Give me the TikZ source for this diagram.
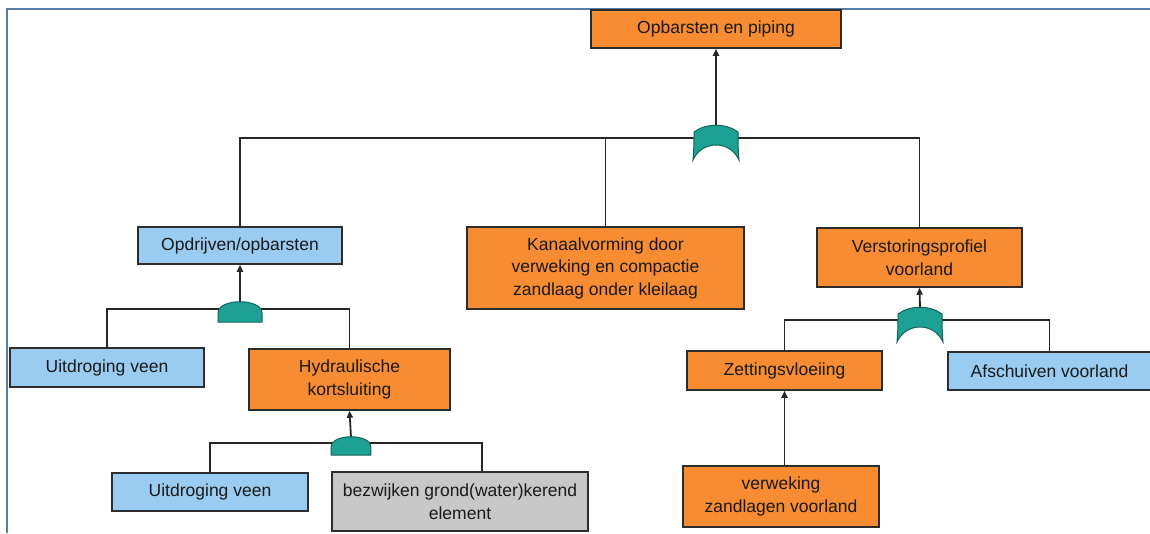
\documentclass[tikz,border=0pt]{standalone}
\usepackage{fontspec}
\setmainfont{Liberation Sans}
\usetikzlibrary{arrows.meta,backgrounds}
\definecolor{forange}{RGB}{247,140,50}
\definecolor{fblue}{RGB}{153,204,240}
\definecolor{fgrey}{RGB}{200,200,200}
\definecolor{gatefill}{RGB}{30,160,148}
\definecolor{gateline}{RGB}{18,100,92}
\definecolor{boxline}{RGB}{45,45,45}
\definecolor{frameblue}{RGB}{85,125,168}
\tikzset{
  x=1pt, y=-1pt,
  box/.style={draw=boxline, line width=1.5pt, align=center, text=black!90,
    font=\fontsize{17.5}{22.5}\selectfont, inner sep=2pt},
  orangebox/.style={box, fill=forange},
  bluebox/.style={box, fill=fblue},
  greybox/.style={box, fill=fgrey},
  link/.style={draw=black!85, line width=1.8pt},
  uplink/.style={link, -{Triangle[length=7pt,width=6pt]}},
  gatestyle/.style={fill=gatefill, draw=gateline, line width=1pt},
  orgate/.pic={
    \path[gatestyle] (-23,0) .. controls (-22,-12) and (-22,-20) .. (-22,-28)
      .. controls (-10,-37) and (10,-37) .. (22,-28)
      .. controls (22,-20) and (22,-12) .. (23,0)
      .. controls (14,-20) and (-14,-20) .. (-23,0) -- cycle;
    \coordinate (-top) at (0,-34);
    \coordinate (-join) at (0,-22);
  },
  andgate/.pic={
    \path[gatestyle] (-22,0) -- (-22,-9) .. controls (-22,-24) and (22,-24) .. (22,-9) -- (22,0) -- cycle;
    \coordinate (-top) at (0,-20);
    \coordinate (-join) at (0,-13);
  },
}
\begin{document}
\begin{tikzpicture}
\useasboundingbox (0,0) rectangle (1150,533);

% frame
\coordinate (frtl) at (7,9);
\coordinate (frtr) at (1150,9);
\coordinate (frbl) at (7,533);

% boxes
\node[orangebox, minimum width=250pt, minimum height=38pt] (top) at (716,29) {Opbarsten en piping};
\node[bluebox, minimum width=204pt, minimum height=37pt] (opd) at (240,245.5) {Opdrijven/opbarsten};
\node[orangebox, minimum width=277pt, minimum height=82pt] (kan) at (605.5,268) {Kanaalvorming door\\verweking en compactie\\zandlaag onder kleilaag};
\node[orangebox, minimum width=205pt, minimum height=59pt] (ver) at (919.5,257.5) {Verstoringsprofiel\\voorland};
\node[bluebox, minimum width=194pt, minimum height=39pt] (uit1) at (107,367.5) {Uitdroging veen};
\node[orangebox, minimum width=201pt, minimum height=61pt] (hyd) at (349.5,379.5) {Hydraulische\\kortsluiting};
\node[orangebox, minimum width=195pt, minimum height=39pt] (zet) at (784.5,370.5) {Zettingsvloeiing};
\node[bluebox, minimum width=203pt, minimum height=38pt] (afs) at (1049.5,371) {Afschuiven voorland};
\node[bluebox, minimum width=196pt, minimum height=38pt] (uit2) at (210,492) {Uitdroging veen};
\node[greybox, minimum width=256pt, minimum height=59pt] (bez) at (460,501.5) {bezwijken grond(water)kerend\\element};
\node[orangebox, minimum width=196pt, minimum height=61pt] (vwk) at (781,496.5) {verweking\\zandlagen voorland};

% gates
\pic (g1) at (716,160) {orgate};
\pic (g2) at (240,322) {andgate};
\pic[scale=0.9] (g3) at (351,455) {andgate};
\pic (g4) at (920,342) {orgate};

\begin{scope}[on background layer]
  \draw[draw=frameblue, line width=2pt] (frbl) -- (frtl) -- (frtr);
  % level 1
  \draw[link] (opd.north) |- (g1-join) -| (ver.north);
  \draw[link] (g1-join) -| (kan.north);
  \draw[uplink, line width=2.8pt] (g1-top) -- (top.south);
  % opdrijven
  \draw[link] (uit1.north) |- (g2-join) -| (hyd.north);
  \draw[uplink] (g2-top) -- (opd.south);
  % hydraulische
  \draw[link] (uit2.north) |- (g3-join) -| ([xshift=22pt]bez.north);
  \draw[uplink] (g3-top) -- (hyd.south);
  % verstoring
  \draw[link] (zet.north) |- (g4-join) -| (afs.north);
  \draw[uplink] (g4-top) -- (ver.south);
  % zettingsvloeiing
  \draw[uplink] (vwk.north -| zet.south) -- (zet.south);
\end{scope}
\end{tikzpicture}
\end{document}
